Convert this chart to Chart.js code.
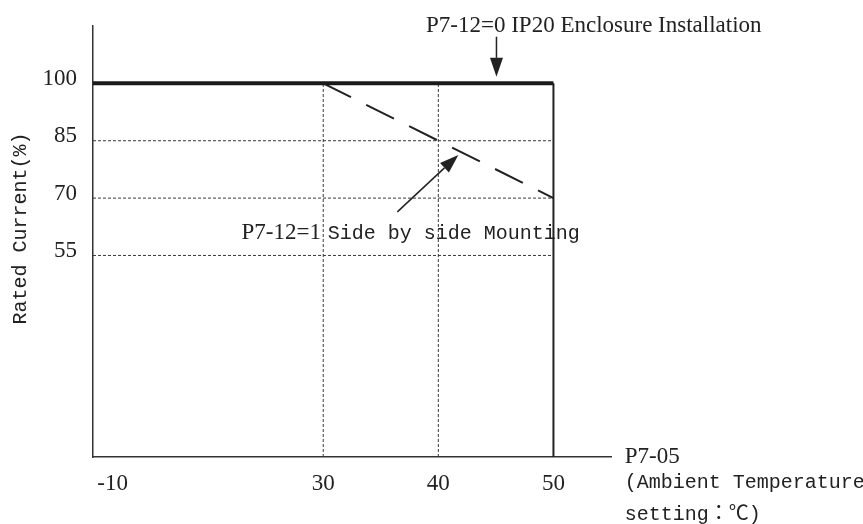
<!DOCTYPE html>
<html>
<head>
<meta charset="utf-8">
<script src="https://cdn.jsdelivr.net/npm/chart.js@4/dist/chart.umd.min.js"></script>
<style>
  html, body { margin: 0; padding: 0; background: #ffffff; }
  #wrap { width: 863px; height: 524px; }
</style>
</head>
<body>
<div id="wrap"><canvas id="c" width="863" height="524"></canvas></div>
<script>
// ---- data ----
const ip20Temp = [10, 50];          // P7-12=0 IP20 enclosure (axis start .. 50 °C)
const ip20Current = [100, 100];
const sideTemp = [30, 50];          // P7-12=1 side by side mounting
const sideCurrent = [100, 70];
const limitTemp = [50, 50];         // limit line at 50 °C
const limitCurrent = [100, 2.3];
const gridCurrents = [85, 70, 55];  // dotted reference levels
const gridTemps = [30, 40];         // dotted reference temperatures
const yTickValues = [100, 85, 70, 55];
const xTickLabels = ['-10', '30', '40', '50'];
const xTickValues = [11.7, 30, 40, 50];   // "-10" sits on the broken start of the axis

const X_MIN = 10, X_MAX = 55, Y_MIN = 2.3, Y_MAX = 115;

const SERIF = '"Liberation Serif", "Times New Roman", serif';
const MONO = '"Liberation Mono", "Noto Sans CJK TC", monospace';
const INK = '#222222';

const pts = (xs, ys) => xs.map((x, i) => ({ x: x, y: ys[i] }));

const datasets = [];
gridCurrents.forEach(v => datasets.push({
  data: pts([X_MIN, 50], [v, v]),
  borderColor: '#3a3a3a', borderWidth: 1, borderDash: [3, 2], pointRadius: 0, order: 5
}));
gridTemps.forEach(t => datasets.push({
  data: pts([t, t], [Y_MIN, 100]),
  borderColor: '#3a3a3a', borderWidth: 1, borderDash: [3, 2], pointRadius: 0, order: 5
}));
datasets.push({
  label: 'limit', data: pts(limitTemp, limitCurrent),
  borderColor: INK, borderWidth: 2, pointRadius: 0, order: 3
});
datasets.push({
  label: 'P7-12=1 Side by side Mounting', data: pts(sideTemp, sideCurrent),
  borderColor: INK, borderWidth: 2, borderDash: [31, 17], pointRadius: 0, order: 2
});
datasets.push({
  label: 'P7-12=0 IP20 Enclosure Installation', data: pts(ip20Temp, ip20Current),
  borderColor: '#1a1a1a', borderWidth: 4, pointRadius: 0, order: 1
});

// annotations in data coordinates
const arrows = [
  { from: [45.05, 112.2], to: [45.05, 101.7] },
  { from: [36.44, 66.4], to: [41.74, 81.3] }
];
const texts = [
  { t: 'P7-12=0 IP20 Enclosure Installation', x: 38.93, y: 115.1, font: '23px ' + SERIF },
  { t: 'P7-12=1', x: 22.9, y: 60.8, font: '23px ' + SERIF },
  { t: 'Side by side Mounting', x: 30.4, y: 60.8, font: '20px ' + MONO },
  { t: 'P7-05', x: 56.2, y: 2.2, font: '23px ' + SERIF },
  { t: '(Ambient Temperature', x: 56.2, y: -4.3, font: '20px ' + MONO },
  { t: 'setting：℃)', x: 56.2, y: -12.9, font: '20px ' + MONO }
];

const annot = {
  id: 'annot',
  afterDraw(chart) {
    const ctx = chart.ctx, xs = chart.scales.x, ys = chart.scales.y;
    ctx.save();
    ctx.fillStyle = INK; ctx.strokeStyle = INK;
    arrows.forEach(a => {
      const x1 = xs.getPixelForValue(a.from[0]), y1 = ys.getPixelForValue(a.from[1]);
      const x2 = xs.getPixelForValue(a.to[0]), y2 = ys.getPixelForValue(a.to[1]);
      const ang = Math.atan2(y2 - y1, x2 - x1);
      const L = 19, W = 6.5;
      const bx = x2 - L * Math.cos(ang), by = y2 - L * Math.sin(ang);
      ctx.lineWidth = 1.5;
      ctx.beginPath(); ctx.moveTo(x1, y1); ctx.lineTo(bx, by); ctx.stroke();
      ctx.beginPath();
      ctx.moveTo(x2, y2);
      ctx.lineTo(bx + W * Math.sin(ang), by - W * Math.cos(ang));
      ctx.lineTo(bx - W * Math.sin(ang), by + W * Math.cos(ang));
      ctx.closePath(); ctx.fill();
    });
    ctx.textAlign = 'left'; ctx.textBaseline = 'middle';
    texts.forEach(o => {
      ctx.font = o.font;
      ctx.fillText(o.t, xs.getPixelForValue(o.x), ys.getPixelForValue(o.y));
    });
    // y-axis title
    ctx.font = '20px ' + MONO;
    ctx.translate(xs.getPixelForValue(3.75), ys.getPixelForValue(62.05));
    ctx.rotate(-Math.PI / 2);
    ctx.textAlign = 'center';
    ctx.fillText('Rated Current(%)', 0, 0);
    ctx.restore();
  }
};

new Chart(document.getElementById('c'), {
  type: 'line',
  data: { datasets: datasets },
  plugins: [annot],
  options: {
    responsive: false,
    animation: false,
    devicePixelRatio: 1,
    layout: { padding: { left: 0, top: 26, right: 252, bottom: 0 } },
    plugins: { legend: { display: false }, tooltip: { enabled: false } },
    elements: { line: { tension: 0, borderCapStyle: 'butt' } },
    scales: {
      x: {
        type: 'linear', min: X_MIN, max: X_MAX,
        afterBuildTicks: s => { s.ticks = xTickValues.map(v => ({ value: v })); },
        afterFit: s => { s.height = 67; },
        ticks: {
          callback: (v, i) => xTickLabels[i],
          font: { family: SERIF, size: 23 }, color: INK,
          padding: 5, maxRotation: 0, autoSkip: false
        },
        grid: { display: false },
        border: { display: true, color: '#333333', width: 1.5 }
      },
      y: {
        type: 'linear', min: Y_MIN, max: Y_MAX,
        afterBuildTicks: s => { s.ticks = yTickValues.map(v => ({ value: v })); },
        afterFit: s => { s.width = 93; },
        ticks: {
          callback: v => String(v),
          font: { family: SERIF, size: 23 }, color: INK,
          padding: 8, labelOffset: -4.5, autoSkip: false
        },
        grid: { display: false },
        border: { display: true, color: '#333333', width: 1.5 }
      }
    }
  }
});
</script>
</body>
</html>
